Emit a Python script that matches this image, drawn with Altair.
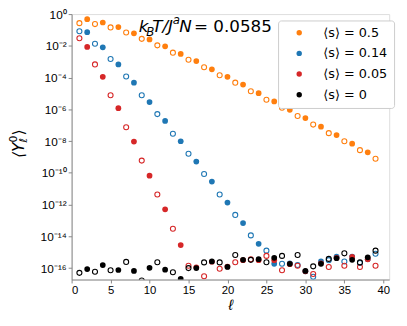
import json
import altair as alt
import pandas as pd

# ---- data (log10 of <Y_l^0>) ----
ell = list(range(1, 40))
series_names = ["⟨s⟩ = 0.5", "⟨s⟩ = 0.14", "⟨s⟩ = 0.05", "⟨s⟩ = 0"]
series_colors = ["#ff7f0e", "#1f77b4", "#d62728", "#000000"]

log_s050 = [-0.57, -0.32, -0.63, -0.53, -0.84, -0.82, -1.16, -1.21, -1.56, -1.60,
            -1.97, -2.03, -2.43, -2.51, -2.88, -2.96, -3.35, -3.48, -3.85, -3.95,
            -4.32, -4.44, -4.86, -4.98, -5.40, -5.50, -5.90, -6.03, -6.42, -6.55,
            -6.96, -7.09, -7.50, -7.62, -8.01, -8.16, -8.57, -8.71, -9.11]
log_s014 = [-1.08, -1.14, -1.87, -2.09, -2.83, -3.17, -3.93, -4.32, -5.11, -5.54,
            -6.30, -6.73, -7.54, -8.01, -8.80, -9.29, -10.07, -10.55, -11.36, -11.87,
            -12.65, -13.16, -13.94, -14.47, -14.90, -15.73, -15.73, -15.70, -15.80, -16.20,
            -16.55, -15.58, -15.50, -15.28, -15.58, -15.28, -15.68, -15.44, -15.10]
log_s005 = [-1.52, -2.07, -3.17, -3.95, -5.11, -5.93, -7.13, -8.03, -9.23, -10.18,
            -11.36, -12.30, -13.52, -14.55, -15.85, -15.95, -16.51, -15.60, -16.04, -15.90,
            -15.63, -15.50, -15.45, -15.50, -15.23, -15.50, -16.14, -15.75, -15.85, -16.20,
            -16.37, -15.70, -15.93, -15.35, -15.85, -15.30, -15.93, -15.45, -15.85]
log_s000 = [-16.30, -16.06, -16.23, -15.81, -16.14, -16.12, -15.61, -16.18, -16.78, -15.98,
            -15.63, -16.10, -16.26, -16.68, -16.00, -16.00, -15.64, -15.58, -15.64, -15.93,
            -15.17, -15.48, -15.48, -15.44, -15.63, -15.35, -15.23, -15.73, -15.17, -16.18,
            -15.89, -15.73, -15.42, -15.38, -15.07, -15.48, -15.64, -15.32, -14.90]

x_ticks = [0, 5, 10, 15, 20, 25, 30, 35, 40]
y_tick_exps = [0, -2, -4, -6, -8, -10, -12, -14, -16]
y_tick_labels = ["10⁰", "10⁻²", "10⁻⁴", "10⁻⁶", "10⁻⁸", "10⁻¹⁰", "10⁻¹²", "10⁻¹⁴", "10⁻¹⁶"]

all_logs = [log_s050, log_s014, log_s005, log_s000]

rows = []
for name, logs in zip(series_names, all_logs):
    for l, v in zip(ell, logs):
        rows.append({"ell": l, "val": 10.0 ** v, "series": name,
                     "filled": (l % 2 == 0)})
df = pd.DataFrame(rows)

# ---- scales / axes ----
W, H = 323, 270
xscale = alt.Scale(domain=[0, 40.75], nice=False, zero=False)
yscale = alt.Scale(type="log", domain=[10 ** -16.72, 1], nice=False)
cscale = alt.Scale(domain=series_names, range=series_colors)

label_expr = json.dumps(y_tick_labels, ensure_ascii=False) + "[round(-log(datum.value)/LN10/2)]"

xaxis = alt.Axis(values=x_ticks, title="ℓ", grid=False, labelFontSize=11.5,
                 titleFontSize=15, titleFontStyle="italic", titleFontWeight="normal",
                 titlePadding=1, labelPadding=2, tickSize=3.5)
yaxis = alt.Axis(values=[10.0 ** e for e in y_tick_exps], labelExpr=label_expr,
                 title=None, grid=False, labelFontSize=12, labelPadding=2,
                 tickSize=3.5, labelFlush=False, labelOverlap=False)

legend = alt.Legend(title=None, orient="none", legendX=210, legendY=6.5,
                    padding=6, symbolOffset=9, labelOffset=18, rowPadding=7,
                    symbolType="circle", symbolSize=30, symbolStrokeWidth=0,
                    labelFont="DejaVu Sans", labelFontSize=13, labelColor="black",
                    fillColor="white", strokeColor="#cccccc", cornerRadius=3)

layers = []
for name in series_names:
    sub = df[df["series"] == name]
    filled = alt.Chart(sub[sub["filled"]]).mark_circle(size=34, opacity=1, clip=True).encode(
        x=alt.X("ell:Q", scale=xscale, axis=xaxis),
        y=alt.Y("val:Q", scale=yscale, axis=yaxis),
        color=alt.Color("series:N", scale=cscale, legend=legend),
    )
    hollow = alt.Chart(sub[~sub["filled"]]).mark_point(size=26, strokeWidth=1.1, filled=False,
                                                       opacity=1, clip=True).encode(
        x=alt.X("ell:Q", scale=xscale, axis=xaxis),
        y=alt.Y("val:Q", scale=yscale, axis=yaxis),
        color=alt.Color("series:N", scale=cscale, legend=None),
    )
    layers += [filled, hollow]

one = pd.DataFrame({"a": [0]})


def txt(s, x, y, size, style="normal", angle=0):
    return alt.Chart(one).mark_text(text=s, align="left", baseline="alphabetic",
                                    font="DejaVu Sans", fontSize=size, fontStyle=style,
                                    angle=angle, color="black", clip=False).encode(
        x=alt.value(x), y=alt.value(y))


# annotation k_B T / J^a N = 0.0585
annot = [
    txt("k", 68.3, 18.5, 17, "italic"),
    txt("B", 76.0, 22.0, 12, "italic"),
    txt("T/J", 82.0, 18.5, 17, "italic"),
    txt("a", 103.0, 10.5, 12, "italic"),
    txt("N", 109.5, 18.5, 17, "italic"),
    txt("= 0.0585", 124.5, 18.5, 17),
]

# y-axis title <Y_l^0>, rotated
ox, oy = 72.7, 11.5
ytitle = [
    txt("⟨Y", 24 - ox, 158 - oy, 16, "italic", 270),
    txt("0", 17 - ox, 142 - oy, 11, "normal", 270),
    txt("ℓ", 27.5 - ox, 142 - oy, 11, "italic", 270),
    txt("⟩", 24 - ox, 135 - oy, 16, "normal", 270),
]

chart = alt.layer(*layers, *annot, *ytitle).properties(
    width=W, height=H,
    autosize=alt.AutoSizeParams(type="none"),
    padding={"left": 64.7, "top": 3.5, "right": 10, "bottom": 40},
).configure_view(stroke="black", strokeWidth=0.8).configure_axis(
    labelFont="DejaVu Sans", titleFont="DejaVu Sans", labelColor="black",
    titleColor="black", domainColor="black", tickColor="black",
    domainWidth=0.8, tickWidth=0.8,
).configure(background="white")

chart.save("out.html", embed_options={"renderer": "svg", "actions": False})
